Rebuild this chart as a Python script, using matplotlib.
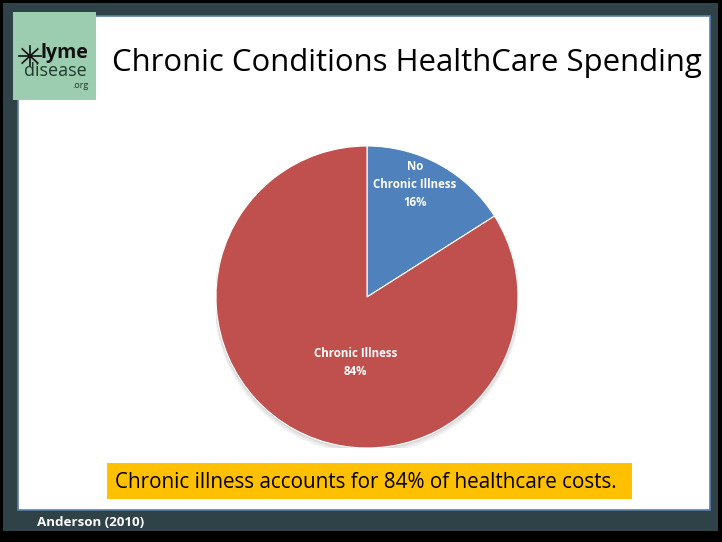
import matplotlib
matplotlib.use("Agg")
import matplotlib.pyplot as plt
from matplotlib.patches import Rectangle
import numpy as np

# Spending share data
categories = ["No\nChronic Illness", "Chronic Illness"]
shares = [16, 84]
colors = ["#4F81BD", "#C0504D"]
label_radius = [0.81, 0.44]
label_turn = [5.6, 18.6]   # degrees off each wedge's mid angle

title = "Chronic Conditions HealthCare Spending"
callout = "Chronic illness accounts for 84% of healthcare costs."
source = "Anderson (2010)"

W, H = 722, 542
fig = plt.figure(figsize=(W / 100, H / 100), dpi=100)
fig.patch.set_facecolor("black")

# Background canvas in pixel coordinates
bg = fig.add_axes([0, 0, 1, 1])
bg.set_xlim(0, W)
bg.set_ylim(H, 0)
bg.axis("off")

bg.add_patch(Rectangle((3, 3), W - 7, H - 14, facecolor="#2E4247", edgecolor="none"))
bg.add_patch(Rectangle((18, 16), 692, 494, facecolor="white", edgecolor="#5B7FA8", lw=1.2))

# Logo block
bg.add_patch(Rectangle((13, 12), 83, 88, facecolor="#9DCDB0", edgecolor="none"))
bg.text(64, 53, "lyme", fontsize=14, fontweight="bold", family="Open Sans",
        color="#111111", ha="center", va="center")
bg.text(55, 71, "disease", fontsize=13, family="Open Sans",
        color="#1E3A2A", ha="center", va="center")
bg.text(80, 86, ".org", fontsize=6.5, family="Open Sans",
        color="#1E3A2A", ha="center", va="center")
# little tick figure in the logo
for ang in np.linspace(0, 2 * np.pi, 9)[:-1]:
    bg.plot([30, 30 + 11 * np.cos(ang)], [56, 56 + 10 * np.sin(ang)],
            color="#111111", lw=1.2)

bg.text(407, 63, title, fontsize=22.4, family="Open Sans", color="black",
        ha="center", va="center")

# Callout
bg.add_patch(Rectangle((107, 463), 525, 36, facecolor="#FFC000", edgecolor="none"))
bg.text(366, 482, callout, fontsize=14.9, family="Open Sans", color="black",
        ha="center", va="center")

bg.text(37, 522, source, fontsize=9.6, family="Open Sans", fontweight="bold",
        color="white", ha="left", va="center")

# Pie chart
cx, cy, r = 367, 297, 151
pax = fig.add_axes([(cx - r) / W, 1 - (cy + r) / H, 2 * r / W, 2 * r / H])

# soft shadow
for i, a in enumerate([0.05, 0.04, 0.03]):
    sh = plt.Circle((0.0, -0.012 - 0.007 * i), 1.0 + 0.005 * i, color="black",
                    alpha=a, zorder=0)
    pax.add_patch(sh)

wedges, _ = pax.pie(shares, colors=colors, startangle=90, counterclock=False,
                    radius=1, wedgeprops=dict(edgecolor="white", linewidth=0.8))
for w in wedges:
    w.set_zorder(2)

pax.set_xlim(-1, 1)
pax.set_ylim(-1, 1)
pax.set_aspect("equal")
pax.axis("off")

for w, cat, val, rr, turn in zip(wedges, categories, shares, label_radius, label_turn):
    mid = np.deg2rad((w.theta1 + w.theta2) / 2 + turn)
    pax.text(rr * np.cos(mid), rr * np.sin(mid), f"{cat}\n{val}%",
             ha="center", va="center", color="white", fontsize=8.3,
             fontweight="bold", family="Open Sans", linespacing=1.5, zorder=3)

fig.savefig("out.png", dpi=100, facecolor=fig.get_facecolor())
